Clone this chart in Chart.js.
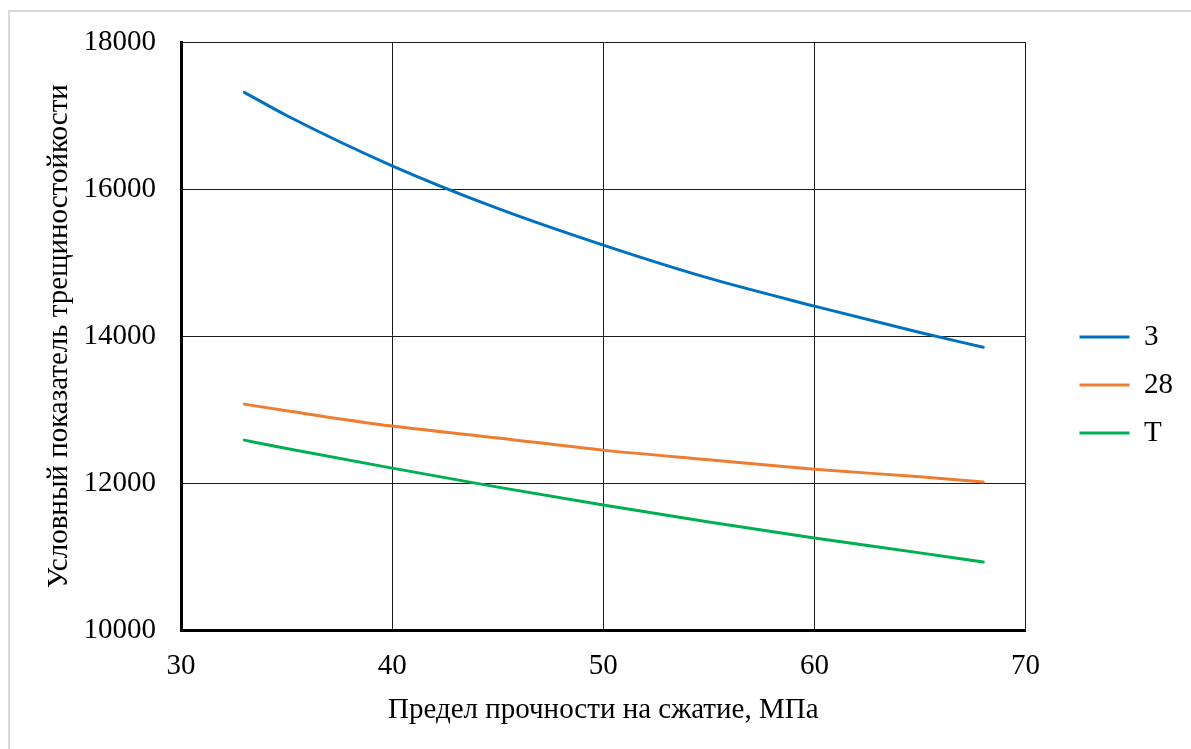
<!DOCTYPE html>
<html>
<head>
<meta charset="utf-8">
<script src="https://cdn.jsdelivr.net/npm/chart.js@4.4.1/dist/chart.umd.min.js"></script>
<style>
  html, body { margin: 0; padding: 0; background: #ffffff; overflow: hidden; }
  #wrap { position: relative; width: 1191px; height: 749px; }
  #c { position: absolute; left: 0; top: 0; }
  #frame { position: absolute; left: 8px; top: 10px; width: 1200px; height: 760px;
           border: 2px solid #d9d9d9; pointer-events: none; box-sizing: border-box; }
</style>
</head>
<body>
<div id="wrap">
  <canvas id="c" width="1191" height="749"></canvas>
  <div id="frame"></div>
</div>
<script>
// ---- data ----
const xValues = [33, 35, 40, 45, 50, 55, 60, 65, 68];
const series3 = [17320, 17005, 16320, 15740, 15240, 14790, 14410, 14050, 13850];
const series28 = [13075, 12985, 12776, 12615, 12449, 12318, 12190, 12085, 12014];
const seriesT = [12585, 12472, 12204, 11945, 11701, 11470, 11252, 11050, 10925];
const seriesNames = ['3', '28', 'Т'];
const seriesColors = ['#0070C0', '#ED7D31', '#00B050'];
const xTitle = 'Предел прочности на сжатие, МПа';
const yTitle = 'Условный показатель трещиностойкости';
const xMin = 30, xMax = 70, xStep = 10;
const yMin = 10000, yMax = 18000, yStep = 2000;

const FONT = "'Liberation Serif', 'Times New Roman', serif";
const FS = 29;
const PB = 21;
const toPoints = (ys) => xValues.map((x, i) => ({ x: x, y: ys[i] }));

const datasets = [series3, series28, seriesT].map((ys, i) => ({
  label: seriesNames[i],
  data: toPoints(ys),
  borderColor: seriesColors[i],
  backgroundColor: seriesColors[i],
  borderWidth: 3,
  borderCapStyle: 'round',
  borderJoinStyle: 'round',
  pointRadius: 0,
  pointHoverRadius: 0,
  cubicInterpolationMode: 'monotone',
  fill: false
}));

Chart.defaults.font.family = FONT;
Chart.defaults.color = '#000000';

new Chart(document.getElementById('c'), {
  type: 'line',
  data: { datasets: datasets },
  options: {
    responsive: false,
    animation: false,
    devicePixelRatio: 1,
    layout: { padding: { left: 0, top: 42, right: 8, bottom: PB } },
    plugins: {
      tooltip: { enabled: false },
      legend: {
        display: true,
        position: 'right',
        align: 'center',
        labels: {
          usePointStyle: true,
          pointStyle: 'line',
          pointStyleWidth: 50,
          boxHeight: FS,
          padding: 19,
          color: '#000000',
          font: { family: FONT, size: FS }
        }
      }
    },
    scales: {
      x: {
        type: 'linear',
        position: 'bottom',
        min: xMin, max: xMax,
        ticks: { stepSize: xStep, padding: 19, font: { family: FONT, size: FS }, color: '#000',
                 callback: (v) => String(v) },
        grid: { color: '#1a1a1a', lineWidth: 1, drawTicks: false },
        border: { display: true, color: '#000000', width: 3 },
        title: { display: true, text: xTitle, color: '#000', font: { family: FONT, size: FS }, padding: { top: 0, bottom: 0 } },
        afterFit: (s) => { s.height = 749 - PB - 630; }
      },
      y: {
        type: 'linear',
        position: 'left',
        min: yMin, max: yMax,
        ticks: { stepSize: yStep, padding: 25, font: { family: FONT, size: FS }, color: '#000',
                 callback: (v) => String(v) },
        grid: { color: '#1a1a1a', lineWidth: 1, drawTicks: false },
        border: { display: true, color: '#000000', width: 3 },
        title: { display: true, text: yTitle, color: '#000', font: { family: FONT, size: FS }, padding: { top: 41.5, bottom: 0 } },
        afterFit: (s) => { s.width = 181; }
      },
      gap: {
        type: 'linear',
        position: 'right',
        display: true,
        ticks: { display: false },
        grid: { display: false, drawTicks: false },
        border: { display: false },
        afterFit: (s) => { s.width = 35; }
      }
    }
  }
});
</script>
</body>
</html>
